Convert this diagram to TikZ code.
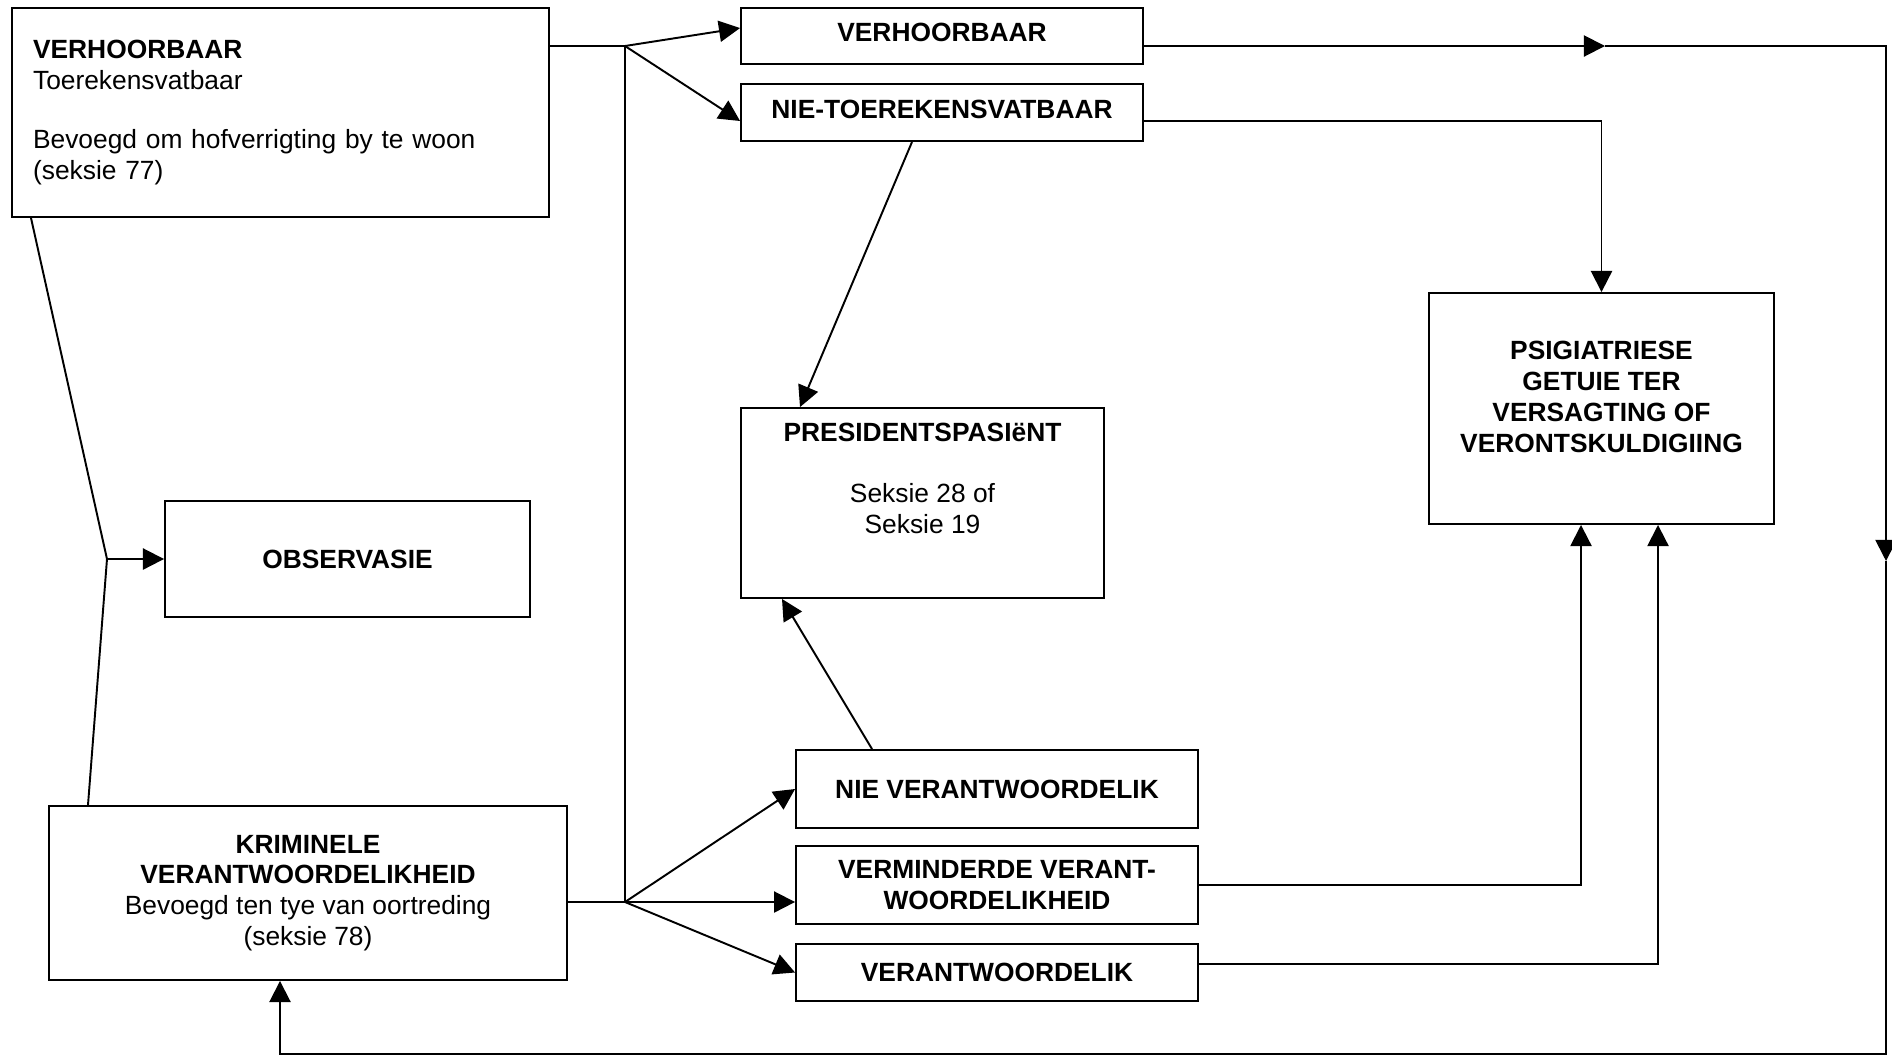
\documentclass[tikz,border=0pt]{standalone}
\usepackage{fontspec}
\setmainfont{Liberation Sans}
\usetikzlibrary{arrows.meta}

\begin{document}
\begin{tikzpicture}[x=0.02cm,y=-0.02cm,line width=1.1pt,
    >={Triangle[length=12pt,width=12pt]}]
  \useasboundingbox (0,0) rectangle (1892,1056);
  % Boxes
  \begin{scope}[every node/.style={draw,rectangle,inner sep=0pt,align=center,
      font=\fontsize{15}{17.5}\selectfont},
      hdr/.style={font=\fontsize{15}{17.5}\selectfont\bfseries}]
    % -- left column
    \node[minimum width=10.74cm,minimum height=4.18cm,text width=9.9cm,align=left]
      (verhoor) at (280.5,112.5)
      {\textbf{VERHOORBAAR}\\Toerekensvatbaar\\[16.5pt]%
       Bevoegd om hofverrigting by te woon\\(seksie 77)};
    \node[hdr,minimum width=7.3cm,minimum height=2.32cm]
      (obs) at (347.5,559) {OBSERVASIE};
    \node[minimum width=10.36cm,minimum height=3.48cm]
      (krim) at (308,893)
      {\textbf{KRIMINELE}\\\textbf{VERANTWOORDELIKHEID}\\%
       Bevoegd ten tye van oortreding\\(seksie 78)};
    % -- middle column
    \node[hdr,minimum width=8.04cm,minimum height=1.12cm,text depth=4pt]
      (verhB) at (942,36) {VERHOORBAAR};
    \node[hdr,minimum width=8.04cm,minimum height=1.14cm,text depth=4pt]
      (ontoer) at (942,112.5) {NIE-TOEREKENSVATBAAR};
    \node[minimum width=7.26cm,minimum height=3.8cm]
      (pres) at (922.5,503)
      {\textbf{PRESIDENTSPASIëNT}\\[17.5pt]Seksie 28 of\\Seksie 19\\[5.5pt]\strut};
    \node[hdr,minimum width=8.04cm,minimum height=1.56cm]
      (nie) at (997,789) {NIE VERANTWOORDELIK};
    \node[hdr,minimum width=8.04cm,minimum height=1.56cm]
      (vermin) at (997,885) {VERMINDERDE VERANT-\\WOORDELIKHEID};
    \node[hdr,minimum width=8.04cm,minimum height=1.14cm]
      (verant) at (997,972.5) {VERANTWOORDELIK};
    % -- right column
    \node[hdr,minimum width=6.9cm,minimum height=4.62cm]
      (psig) at (1601.5,408.5)
      {PSIGIATRIESE\\GETUIE TER\\VERSAGTING OF\\VERONTSKULDIGIING\\[-9.5pt]\strut};
  \end{scope}
  % Junctions
  \coordinate (j1) at (625,46);
  \coordinate (j2) at (625,902);
  \coordinate (j3) at (107,559);
  \coordinate (m1) at (1605,46);
  \coordinate (ne) at (1886,46);
  \coordinate (m2) at (1886,561);
  \coordinate (se) at (1886,1054);
  \coordinate (sw) at (280,1054);
  % Connectors
  % -- top fork
  \draw (verhoor.east |- j1) -- (j1) -- (j2);
  \draw[->] (j1) -- (verhB.west |- 0,28);
  \draw[->] (j1) -- (ontoer.west |- 0,121);
  % -- left fork
  \draw (31,0 |- verhoor.south) -- (j3) -- (88,0 |- krim.north);
  \draw[->] (j3) -- (obs.west);
  % -- bottom fork
  \draw (krim.east |- j2) -- (j2);
  \draw[->] (j2) -- (nie.west);
  \draw[->] (j2) -- (vermin.west |- j2);
  \draw[->] (j2) -- (verant.west);
  % -- to the patient box
  \draw[->] (912,0 |- ontoer.south) -- (800,0 |- pres.north);
  \draw[->] (872,0 |- nie.north) -- (782,0 |- pres.south);
  % -- to the psychiatric box
  \draw[->] (ontoer.east |- 0,121) -| (psig.north);
  \draw[->] (vermin.east) -| (1581,0 |- psig.south);
  \draw[->] (verant.east |- 0,964) -| (1658,0 |- psig.south);
  % -- outer loop back
  \draw[->] (verhB.east |- ne) -- (m1);
  \draw[->] (m1) -- (ne) -- (m2);
  \draw[->] (m2) -- (se) -- (sw) -- (krim.south -| sw);
\end{tikzpicture}
\end{document}
